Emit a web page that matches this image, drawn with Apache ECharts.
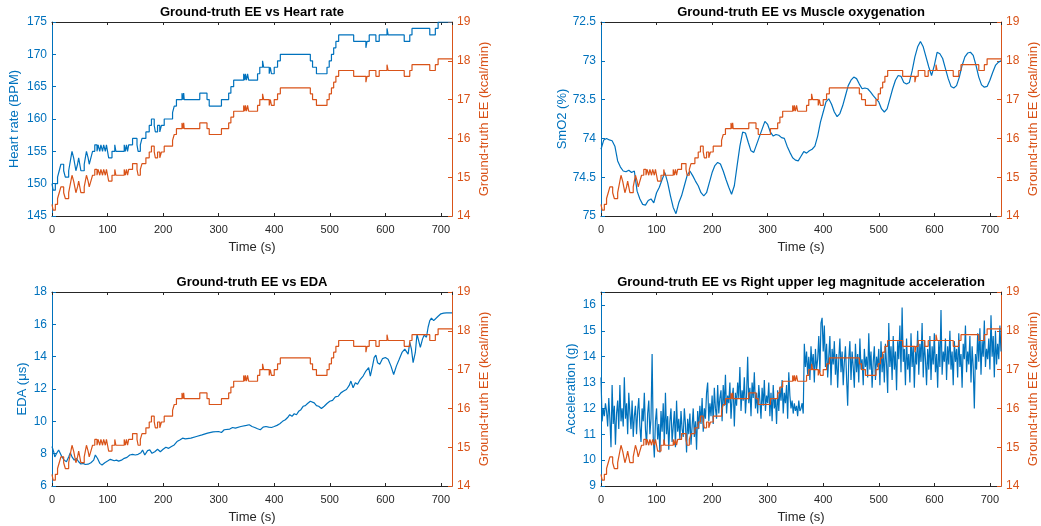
<!DOCTYPE html>
<html>
<head>
<meta charset="utf-8">
<script src="https://cdn.jsdelivr.net/npm/echarts@6/dist/echarts.min.js"></script>
<style>
  html, body { margin: 0; padding: 0; background: #ffffff; }
  #chart { width: 1041px; height: 526px; }
</style>
</head>
<body>
<div id="chart"></div>
<script>
// Change points (s) of the step-wise heart rate and ground-truth EE records
const stepTimes = [
  0, 2, 6, 10, 13, 16, 21, 24, 30, 32,
  34, 36, 39, 41, 43, 46, 48, 50, 52, 58,
  60, 62, 65, 67, 70, 73, 77, 81, 83, 86,
  88, 91, 93, 96, 98, 100, 102, 108, 113, 115,
  130, 132, 134, 136, 138, 145, 153, 155, 159, 162,
  169, 175, 179, 184, 186, 190, 194, 197, 202, 217,
  220, 224, 234, 236, 237, 238, 266, 279, 283, 305,
  318, 322, 327, 345, 347, 348, 350, 352, 354, 370,
  374, 379, 381, 391, 393, 395, 400, 406, 411, 465,
  469, 476, 495, 499, 503, 507, 511, 516, 543, 565,
  567, 571, 583, 589, 603, 605, 634, 644, 648, 680,
  690, 695, 720
];

// Heart rate (BPM) from each change point on
const heartRate = [
  150, 149, 150, 151, 152, 153, 152, 151, 152, 153,
  154, 155, 154, 153, 152, 153, 154, 153, 152, 153,
  154, 155, 154, 153, 154, 155, 156, 155, 156, 155,
  156, 155, 156, 155, 156, 155, 154, 155, 156, 155,
  156, 155, 156, 155, 156, 157, 156, 155, 156, 157,
  158, 159, 160, 159, 158, 159, 158, 159, 160, 161,
  162, 163, 164, 163, 164, 163, 164, 163, 162, 163,
  164, 165, 166, 167, 166, 167, 166, 167, 166, 167,
  168, 169, 168, 167, 168, 167, 168, 169, 170, 169,
  168, 167, 168, 169, 170, 171, 172, 173, 172, 171,
  172, 173, 172, 173, 174, 173, 172, 173, 174, 173,
  174, 175, 175
];

// Ground-truth energy expenditure (kcal/min) from each change point on
const groundTruthEE = [
  14.3, 14.15, 14.3, 14.45, 14.6, 14.75, 14.6, 14.45, 14.6, 14.75,
  14.9, 15.05, 14.9, 14.75, 14.6, 14.75, 14.9, 14.75, 14.6, 14.75,
  14.9, 15.05, 14.9, 14.75, 14.9, 15.05, 15.2, 15.05, 15.2, 15.05,
  15.2, 15.05, 15.2, 15.05, 15.2, 15.05, 14.9, 15.05, 15.2, 15.05,
  15.2, 15.05, 15.2, 15.05, 15.2, 15.35, 15.2, 15.05, 15.2, 15.35,
  15.5, 15.65, 15.8, 15.65, 15.5, 15.65, 15.5, 15.65, 15.8, 15.95,
  16.1, 16.25, 16.4, 16.25, 16.4, 16.25, 16.4, 16.25, 16.1, 16.25,
  16.4, 16.55, 16.7, 16.85, 16.7, 16.85, 16.7, 16.85, 16.7, 16.85,
  17.0, 17.15, 17.0, 16.85, 17.0, 16.85, 17.0, 17.15, 17.3, 17.15,
  17.0, 16.85, 17.0, 17.15, 17.3, 17.45, 17.6, 17.75, 17.6, 17.45,
  17.6, 17.75, 17.6, 17.75, 17.9, 17.75, 17.6, 17.75, 17.9, 17.75,
  17.9, 18.05, 18.05
];

// Muscle oxygenation SmO2 (%), one sample every 5 s from 0 to 720 s
const smo2Step = 5;
const smo2Values = [
  74.14, 74.02, 74.00, 74.02, 74.03, 74.10, 74.29, 74.37, 74.42, 74.43,
  74.41, 74.44, 74.42, 74.68, 74.78, 74.85, 74.86, 74.80, 74.78, 74.83,
  74.70, 74.63, 74.53, 74.44, 74.57, 74.74, 74.89, 74.97, 74.83, 74.74,
  74.61, 74.48, 74.42, 74.48, 74.55, 74.61, 74.70, 74.74, 74.70, 74.57,
  74.44, 74.35, 74.31, 74.33, 74.42, 74.53, 74.63, 74.72, 74.61, 74.35,
  74.10, 73.92, 73.93, 74.05, 74.16, 74.18, 74.08, 73.98, 73.88, 73.78,
  73.82, 73.92, 73.97, 73.95, 73.96, 73.99, 74.00, 74.10, 74.18, 74.25,
  74.28, 74.29, 74.23, 74.17, 74.19, 74.16, 74.14, 74.10, 73.97, 73.79,
  73.66, 73.53, 73.49, 73.56, 73.66, 73.72, 73.68, 73.58, 73.45, 73.32,
  73.25, 73.21, 73.23, 73.30, 73.36, 73.35, 73.36, 73.40, 73.45, 73.49,
  73.53, 73.62, 73.66, 73.62, 73.49, 73.36, 73.25, 73.19, 73.20, 73.28,
  73.30, 73.28, 73.13, 72.95, 72.82, 72.75, 72.82, 72.95, 73.08, 73.19,
  73.06, 72.89, 72.91, 72.97, 73.10, 73.23, 73.33, 73.35, 73.32, 73.21,
  73.06, 72.95, 72.90, 72.89, 72.93, 73.06, 73.21, 73.31, 73.34, 73.33,
  73.25, 73.15, 73.06, 73.02, 73.00
];

// Electrodermal activity (µS)
const edaTimes = [
  0, 3, 5, 8, 12, 15, 18, 22, 26, 30,
  33, 36, 40, 44, 48, 52, 56, 60, 65, 70,
  75, 78, 82, 86, 90, 95, 100, 105, 108, 112,
  116, 120, 125, 130, 135, 140, 145, 150, 155, 160,
  163, 167, 172, 176, 180, 185, 190, 195, 200, 205,
  210, 215, 220, 225, 230, 235, 240, 250, 260, 270,
  280, 290, 300, 305, 310, 320, 325, 330, 340, 350,
  355, 360, 365, 370, 375, 380, 385, 390, 395, 400,
  405, 410, 415, 420, 425, 428, 432, 436, 440, 444,
  448, 452, 456, 460, 465, 468, 472, 476, 480, 485,
  490, 495, 500, 505, 510, 515, 520, 525, 530, 535,
  538, 542, 546, 550, 555, 560, 565, 570, 573, 577,
  580, 583, 586, 590, 595, 600, 605, 610, 615, 620,
  625, 630, 635, 638, 641, 644, 647, 650, 654, 657,
  660, 663, 667, 670, 674, 677, 680, 683, 687, 690,
  695, 700, 705, 710, 715, 720
];
const edaValues = [
  8.44, 8.12, 7.80, 8.00, 8.23, 8.12, 7.80, 7.60, 7.50, 7.80,
  8.06, 7.80, 7.60, 7.70, 7.50, 7.36, 7.40, 7.33, 7.35, 7.44,
  7.60, 7.92, 7.70, 7.40, 7.30, 7.44, 7.54, 7.65, 7.71, 7.56,
  7.60, 7.54, 7.60, 7.71, 7.77, 7.92, 7.96, 7.92, 7.96, 8.06,
  8.23, 7.92, 8.19, 8.23, 8.02, 8.12, 8.27, 8.12, 8.27, 8.40,
  8.33, 8.44, 8.54, 8.75, 8.85, 8.96, 8.92, 8.96, 9.06, 9.16,
  9.27, 9.35, 9.37, 9.31, 9.48, 9.52, 9.62, 9.58, 9.68, 9.75,
  9.79, 9.68, 9.62, 9.54, 9.48, 9.64, 9.68, 9.64, 9.62, 9.68,
  9.75, 9.85, 10.00, 10.10, 10.27, 10.41, 10.31, 10.47, 10.41, 10.62,
  10.72, 10.93, 10.97, 11.10, 11.24, 11.30, 11.14, 10.97, 10.93, 10.79,
  10.93, 11.10, 11.24, 11.30, 11.51, 11.55, 11.76, 11.87, 11.97, 12.22,
  12.49, 12.08, 12.39, 12.29, 12.60, 12.80, 13.11, 13.32, 12.80, 13.43,
  13.95, 14.09, 13.63, 13.53, 13.88, 13.95, 13.84, 13.43, 12.90, 13.43,
  13.84, 14.26, 14.47, 14.57, 14.16, 14.88, 14.47, 13.63, 14.26, 15.40,
  15.30, 14.57, 15.10, 15.34, 15.20, 15.82, 16.23, 16.38, 16.23, 16.33,
  16.50, 16.65, 16.69, 16.71, 16.71, 16.71
];

// Right upper leg acceleration magnitude (g), one sample every 2 s from 0 to 720 s
const accelStep = 2;
const accelValues = [
  13.2, 11.5, 12.0, 11.7, 12.2, 11.9, 11.3, 12.4, 11.6, 10.5,
  12.9, 11.4, 12.1, 10.6, 11.8, 12.3, 11.2, 12.9, 11.5, 12.0,
  11.3, 13.2, 11.6, 12.2, 11.0, 12.6, 11.8, 11.2, 12.3, 10.9,
  11.7, 12.1, 11.0, 11.9, 12.4, 11.3, 10.7, 12.0, 11.5, 12.6,
  11.2, 10.6, 11.8, 12.3, 11.0, 11.6, 14.1, 10.9, 10.1, 11.5,
  12.0, 10.8, 11.4, 10.3, 11.9, 11.1, 12.2, 10.6, 12.6, 11.0,
  11.7, 10.4, 11.5, 12.0, 10.7, 11.3, 11.9, 10.5, 12.3, 11.1,
  11.6, 10.8, 11.9, 11.2, 10.9, 12.0, 11.4, 10.3, 11.6, 11.0,
  11.8, 10.6, 11.3, 12.0, 10.9, 11.5, 10.4, 11.9, 11.2, 12.1,
  11.4, 12.4, 11.1, 12.0, 11.6, 12.6, 13.0, 11.5, 12.2, 11.7,
  12.5, 11.4, 12.8, 12.0, 11.6, 12.9, 11.8, 12.4, 12.7, 11.5,
  12.9, 12.1, 13.3, 11.8, 12.5, 12.2, 13.0, 11.6, 12.4, 12.8,
  11.3, 12.6, 12.1, 13.0, 12.4, 13.6, 11.9, 12.7, 12.3, 13.2,
  11.8, 12.5, 14.0, 12.2, 12.8, 11.7, 13.0, 12.4, 13.4, 12.0,
  12.6, 11.8, 12.9, 12.3, 11.6, 12.8, 12.1, 13.1, 11.9, 12.5,
  12.2, 13.0, 11.7, 12.6, 11.5, 12.9, 12.0, 12.4, 11.4, 12.7,
  11.9, 12.8, 12.3, 13.1, 11.8, 12.6, 12.2, 12.9, 11.6, 13.4,
  12.5, 12.0, 12.3, 11.8, 12.2, 11.9, 12.1, 11.7, 12.3, 11.9,
  12.0, 12.2, 11.8, 14.5, 13.6, 14.2, 13.3, 14.0, 13.1, 14.4,
  13.6, 14.1, 13.0, 14.3, 13.5, 13.9, 14.8, 13.4, 15.3, 15.5,
  14.2, 15.2, 13.6, 14.5, 13.2, 14.0, 14.8, 12.9, 14.3, 13.7,
  14.6, 13.3, 14.1, 12.8, 13.9, 14.7, 13.4, 14.2, 12.9, 13.8,
  14.4, 13.2, 12.1, 13.9, 14.6, 13.1, 14.2, 13.6, 12.8, 14.5,
  13.4, 14.1, 13.0, 14.7, 13.5, 13.9, 12.9, 14.3, 13.6, 14.0,
  13.2, 14.9, 13.5, 14.2, 12.8, 13.8, 14.4, 13.1, 14.0, 13.6,
  14.3, 12.9, 14.6, 13.4, 14.1, 13.0, 14.5, 13.7, 12.6, 15.3,
  13.6, 14.4, 13.1, 14.8, 13.5, 14.2, 12.7, 14.6, 13.9, 15.2,
  13.4, 15.9, 13.8, 14.3, 12.9, 14.7, 13.5, 14.1, 13.0, 14.9,
  13.6, 14.4, 12.8, 14.2, 13.7, 15.0, 13.3, 14.5, 13.8, 15.3,
  13.2, 14.6, 13.9, 12.9, 14.3, 13.5, 14.8, 13.1, 14.4, 13.7,
  14.9, 13.4, 14.1, 12.8, 14.6, 13.6, 15.8, 13.3, 14.2, 13.8,
  14.7, 13.1, 14.4, 13.7, 15.0, 13.5, 14.2, 12.9, 14.6, 13.8,
  14.3, 13.2, 14.9, 13.6, 14.1, 12.8, 14.5, 13.9, 15.2, 13.4,
  14.2, 13.7, 14.8, 13.0, 14.4, 13.6, 12.0, 14.1, 13.5, 14.9,
  13.8, 15.1, 13.3, 14.6, 14.0, 15.4, 13.6, 14.3, 13.9, 14.7,
  13.5, 15.6, 14.0, 14.8, 13.2, 15.0, 13.7, 14.5, 13.9, 15.2,
  14.2
];

const BLUE = '#0072BD';
const ORANGE = '#D95319';
const INK = '#262626';
const FONT = '"Liberation Sans", Arial, Helvetica, sans-serif';

const timeMax = 720;
const timeStep = 100;

function zipPairs(xs, ys) {
  return ys.map((v, i) => [xs[i], v]);
}
function evenPairs(step, ys) {
  return ys.map((v, i) => [i * step, v]);
}

const panels = [
  {
    title: 'Ground-truth EE vs Heart rate',
    left: 52, top: 22,
    yName: 'Heart rate (BPM)', yMin: 145, yMax: 175, yStep: 5, inverse: false, nameGap: 31,
    data: zipPairs(stepTimes, heartRate), step: 'end'
  },
  {
    title: 'Ground-truth EE vs Muscle oxygenation',
    left: 601, top: 22,
    yName: 'SmO2 (%)', yMin: 72.5, yMax: 75, yStep: 0.5, inverse: true, nameGap: 30,
    data: evenPairs(smo2Step, smo2Values), step: false
  },
  {
    title: 'Ground-truth EE vs EDA',
    left: 52, top: 292,
    yName: 'EDA (μs)', yMin: 6, yMax: 18, yStep: 2, inverse: false, nameGap: 23,
    data: zipPairs(edaTimes, edaValues), step: false
  },
  {
    title: 'Ground-truth EE vs Right upper leg magnitude acceleration',
    left: 601, top: 292,
    yName: 'Acceleration (g)', yMin: 9, yMax: 16.5, yStep: 1, inverse: false, nameGap: 23,
    data: evenPairs(accelStep, accelValues), step: false
  }
];

const eeData = zipPairs(stepTimes, groundTruthEE);
const W = 400, H = 194;

const option = {
  animation: false,
  backgroundColor: '#ffffff',
  textStyle: { fontFamily: FONT },
  title: [], grid: [], xAxis: [], yAxis: [], series: []
};

panels.forEach((p, i) => {
  option.grid.push({ left: p.left, top: p.top, width: W, height: H, containLabel: false });

  option.title.push({
    text: p.title,
    left: p.left + W / 2,
    top: p.top - 16,
    textAlign: 'center',
    padding: 0,
    textStyle: { fontFamily: FONT, fontSize: 13, fontWeight: 'bold', color: '#000000' }
  });

  // bottom time axis
  option.xAxis.push({
    type: 'value', gridIndex: i, position: 'bottom',
    min: 0, max: timeMax, interval: timeStep,
    name: 'Time (s)', nameLocation: 'middle', nameGap: 25,
    nameTextStyle: { fontFamily: FONT, fontSize: 13, color: INK },
    axisLine: { show: true, onZero: false, lineStyle: { color: INK, width: 1 } },
    axisTick: { show: true, inside: true, length: 3, lineStyle: { color: INK } },
    axisLabel: { show: true, fontFamily: FONT, fontSize: 11, color: INK, margin: 8, showMaxLabel: false },
    splitLine: { show: false }
  });
  // top frame edge
  option.xAxis.push({
    type: 'value', gridIndex: i, position: 'top',
    min: 0, max: timeMax, interval: timeStep,
    axisLine: { show: true, onZero: false, lineStyle: { color: INK, width: 1 } },
    axisTick: { show: true, inside: true, length: 3, lineStyle: { color: INK } },
    axisLabel: { show: false },
    splitLine: { show: false }
  });

  // left signal axis
  option.yAxis.push({
    type: 'value', gridIndex: i, position: 'left',
    min: p.yMin, max: p.yMax, interval: p.yStep, inverse: p.inverse,
    name: p.yName, nameLocation: 'middle', nameRotate: 90, nameGap: p.nameGap,
    nameTextStyle: { fontFamily: FONT, fontSize: 13, color: BLUE },
    axisLine: { show: true, onZero: false, lineStyle: { color: BLUE, width: 1 } },
    axisTick: { show: true, inside: true, length: 4, lineStyle: { color: BLUE } },
    axisLabel: {
      show: true, fontFamily: FONT, fontSize: 12, color: BLUE, margin: 5,
      formatter: v => (Math.abs(v / p.yStep - Math.round(v / p.yStep)) < 1e-6 ? String(v) : '')
    },
    splitLine: { show: false }
  });
  // right EE axis
  option.yAxis.push({
    type: 'value', gridIndex: i, position: 'right',
    min: 14, max: 19, interval: 1,
    name: 'Ground-truth EE (kcal/min)', nameLocation: 'middle', nameRotate: 90, nameGap: 26,
    nameTextStyle: { fontFamily: FONT, fontSize: 13, color: ORANGE },
    axisLine: { show: true, onZero: false, lineStyle: { color: ORANGE, width: 1 } },
    axisTick: { show: true, inside: true, length: 4, lineStyle: { color: ORANGE } },
    axisLabel: { show: true, fontFamily: FONT, fontSize: 12, color: ORANGE, margin: 5 },
    splitLine: { show: false }
  });

  option.series.push({
    type: 'line', name: p.yName,
    xAxisIndex: 2 * i, yAxisIndex: 2 * i,
    data: p.data, step: p.step,
    showSymbol: false, symbol: 'none', clip: true,
    lineStyle: { color: BLUE, width: 1.2 }, itemStyle: { color: BLUE },
    z: 2
  });
  option.series.push({
    type: 'line', name: 'Ground-truth EE',
    xAxisIndex: 2 * i, yAxisIndex: 2 * i + 1,
    data: eeData, step: 'end',
    showSymbol: false, symbol: 'none', clip: true,
    lineStyle: { color: ORANGE, width: 1.2 }, itemStyle: { color: ORANGE },
    z: 3
  });
});

const chart = echarts.init(document.getElementById('chart'), null, { renderer: 'canvas' });
chart.setOption(option);
</script>
</body>
</html>
